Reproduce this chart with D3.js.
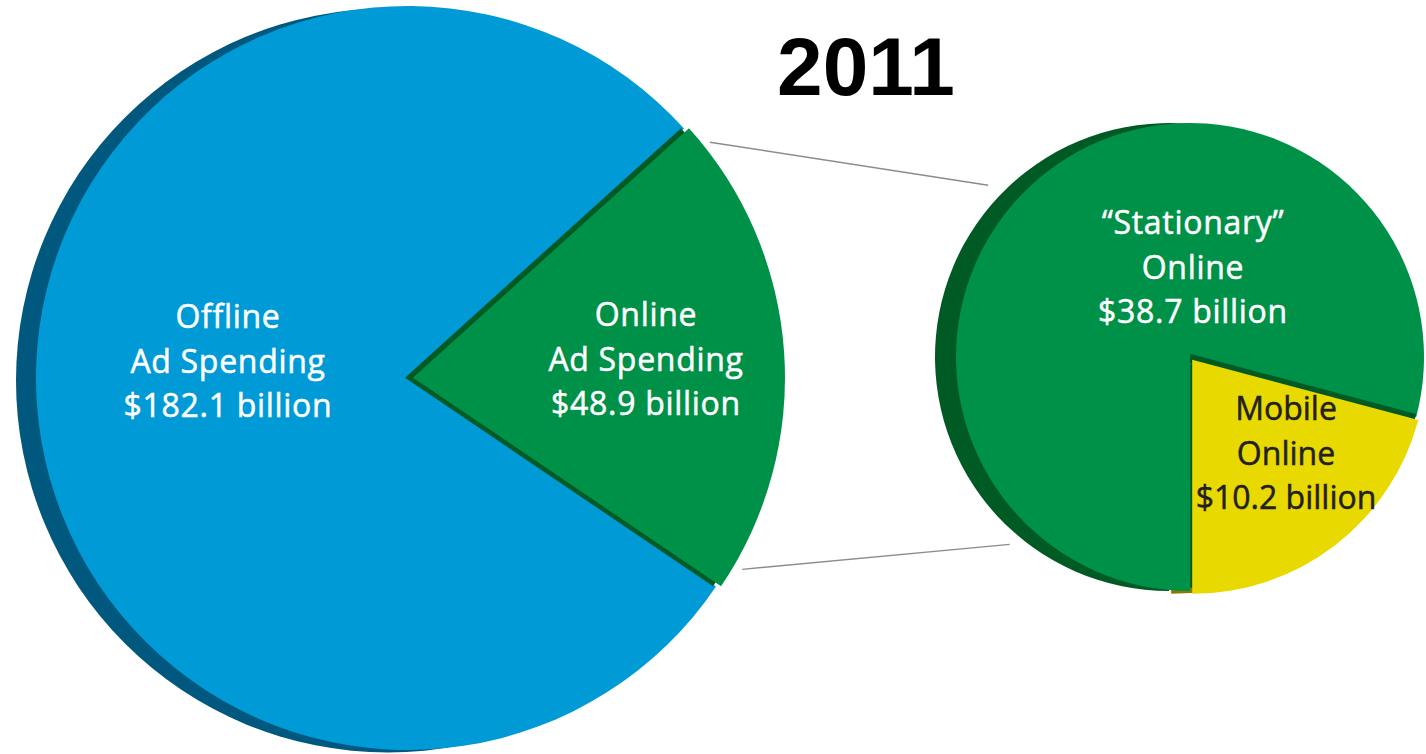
<!DOCTYPE html>
<html>
<head>
<meta charset="utf-8">
<script src="https://cdn.jsdelivr.net/npm/d3@7"></script>
<style>
  html, body { margin: 0; padding: 0; background: #ffffff; }
  svg { display: block; }
</style>
</head>
<body>
<svg id="chart" width="1426" height="754"></svg>
<script>
// Total ad spending split, 2011 (billions of dollars)
const spendCategories = ["Online", "Offline"];
const spendLabels = [["Online", "Ad Spending"], ["Offline", "Ad Spending"]];
const spendValues = [48.9, 182.1];

// Breakdown of online ad spending (billions of dollars)
const onlineCategories = ["Mobile", "Stationary"];
const onlineLabels = [["Mobile", "Online"], ["\u201CStationary\u201D", "Online"]];
const onlineValues = [10.2, 38.7];

const titleText = "2011";

const svg = d3.select("#chart");
const fmt = v => "$" + d3.format(".1f")(v) + " billion";
const deg = d => d * Math.PI / 180;

// ---------- layout ----------
const big = { cx: 408, cy: 378, r: 372, dx: -20, dy: 2.5 };
const small = { cx: 1190, cy: 357, r: 234, dx: -21, dy: 0 };

const colors = {
  Offline: { top: "#009bd6", side: "#00587e" },
  Online: { top: "#009148", side: "#005a24" },
  Stationary: { top: "#009148", side: "#005a24" },
  Mobile: { top: "#e8d900", side: "#8a7b00" }
};

// ---------- big pie: online vs offline ----------
const onlineShare = spendValues[0] / d3.sum(spendValues);
const onlineMid = deg(86);
const bigStart = onlineMid - onlineShare * Math.PI;
const bigPie = d3.pie().sort(null).value(d => d)
  .startAngle(bigStart).endAngle(bigStart + 2 * Math.PI);
const bigArcs = bigPie(spendValues);
const bigArc = d3.arc().innerRadius(0).outerRadius(big.r);
const onlineArc = bigArcs[0];

const bigG = svg.append("g").attr("transform", `translate(${big.cx},${big.cy})`);

// depth of the whole pie, shifted to the left
bigG.append("path")
  .attr("d", d3.arc().innerRadius(0).outerRadius(big.r)({ startAngle: 0, endAngle: 2 * Math.PI }))
  .attr("transform", `translate(${big.dx},${big.dy})`)
  .attr("fill", colors.Offline.side);

// offline slice
bigG.append("path")
  .attr("d", bigArc(bigArcs[1]))
  .attr("fill", colors.Offline.top);

// online slice, pulled out slightly, with its own edge shading
const explodeBig = 5;
const ex = explodeBig * Math.sin(onlineMid), ey = -explodeBig * Math.cos(onlineMid);
bigG.append("path")
  .attr("d", bigArc(onlineArc))
  .attr("transform", `translate(${ex - 8},${ey})`)
  .attr("fill", colors.Online.side);
bigG.append("path")
  .attr("d", bigArc(onlineArc))
  .attr("transform", `translate(${ex},${ey})`)
  .attr("fill", colors.Online.top);

// ---------- small pie: stationary vs mobile ----------
const mobileShare = onlineValues[0] / d3.sum(onlineValues);
const smallStart = Math.PI - mobileShare * 2 * Math.PI;
const smallPie = d3.pie().sort(null).value(d => d)
  .startAngle(smallStart).endAngle(smallStart + 2 * Math.PI);
const smallArcs = smallPie(onlineValues);
const smallArc = d3.arc().innerRadius(0).outerRadius(small.r);

const mobileMid = (smallArcs[0].startAngle + smallArcs[0].endAngle) / 2;
const explodeSmall = 3.6;
const mx = explodeSmall * Math.sin(mobileMid), my = -explodeSmall * Math.cos(mobileMid);

const smallG = svg.append("g").attr("transform", `translate(${small.cx},${small.cy})`);

// depth layer
smallG.append("path")
  .attr("d", smallArc(smallArcs[1]))
  .attr("transform", `translate(${small.dx},${small.dy})`)
  .attr("fill", colors.Stationary.side);
smallG.append("path")
  .attr("d", smallArc(smallArcs[0]))
  .attr("transform", `translate(${mx + small.dx},${my + small.dy})`)
  .attr("fill", colors.Mobile.side);

// top faces
smallG.append("path")
  .attr("d", smallArc(smallArcs[1]))
  .attr("fill", colors.Stationary.top);
smallG.append("path")
  .attr("d", smallArc(smallArcs[0]))
  .attr("transform", `translate(${mx - 2},${my - 6})`)
  .attr("fill", colors.Stationary.side);
smallG.append("path")
  .attr("d", smallArc(smallArcs[0]))
  .attr("transform", `translate(${mx},${my})`)
  .attr("fill", colors.Mobile.top);

// ---------- connector lines ----------
const connA = d3.pointRadial(onlineArc.startAngle + deg(3.7), big.r + 7);
const connB = d3.pointRadial(onlineArc.endAngle - deg(3.9), big.r + 9);
const connC = d3.pointRadial(deg(310.4), small.r + 31);
const connD = d3.pointRadial(deg(223.9), small.r + 26);
const lines = [
  [[big.cx + ex + connA[0], big.cy + ey + connA[1]], [small.cx + connC[0], small.cy + connC[1]]],
  [[big.cx + ex + connB[0], big.cy + ey + connB[1]], [small.cx + connD[0], small.cy + connD[1]]]
];
svg.append("g").selectAll("line").data(lines).join("line")
  .attr("x1", d => d[0][0]).attr("y1", d => d[0][1])
  .attr("x2", d => d[1][0]).attr("y2", d => d[1][1])
  .attr("stroke", "#8c8c8c").attr("stroke-width", 1.4);

// ---------- labels ----------
const labelFont = "'Open Sans', 'Noto Sans', sans-serif";
function label(x, y, lines, fill, spacing) {
  const t = svg.append("text")
    .attr("x", x).attr("y", y)
    .attr("text-anchor", "middle")
    .attr("font-family", labelFont)
    .attr("font-size", 32)
    .attr("letter-spacing", spacing)
    .attr("fill", fill)
    .attr("stroke", fill)
    .attr("stroke-width", 0.5);
  lines.forEach((s, i) => {
    t.append("tspan").attr("x", x).attr("dy", i === 0 ? 0 : 44.5).text(s);
  });
}
label(228, 328, [...spendLabels[1], fmt(spendValues[1])], "#ffffff", 0.7);
label(646, 326, [...spendLabels[0], fmt(spendValues[0])], "#ffffff", 0.7);
label(1193, 234, [...onlineLabels[1], fmt(onlineValues[1])], "#ffffff", 0.7);
label(1286, 420, [...onlineLabels[0], fmt(onlineValues[0])], "#231f20", 0);

// ---------- title ----------
svg.append("text")
  .attr("x", 866).attr("y", 95)
  .attr("text-anchor", "middle")
  .attr("font-family", "'Liberation Sans', Arial, sans-serif")
  .attr("font-weight", "bold")
  .attr("font-size", 82)
  .attr("fill", "#000000")
  .text(titleText);
</script>
</body>
</html>
